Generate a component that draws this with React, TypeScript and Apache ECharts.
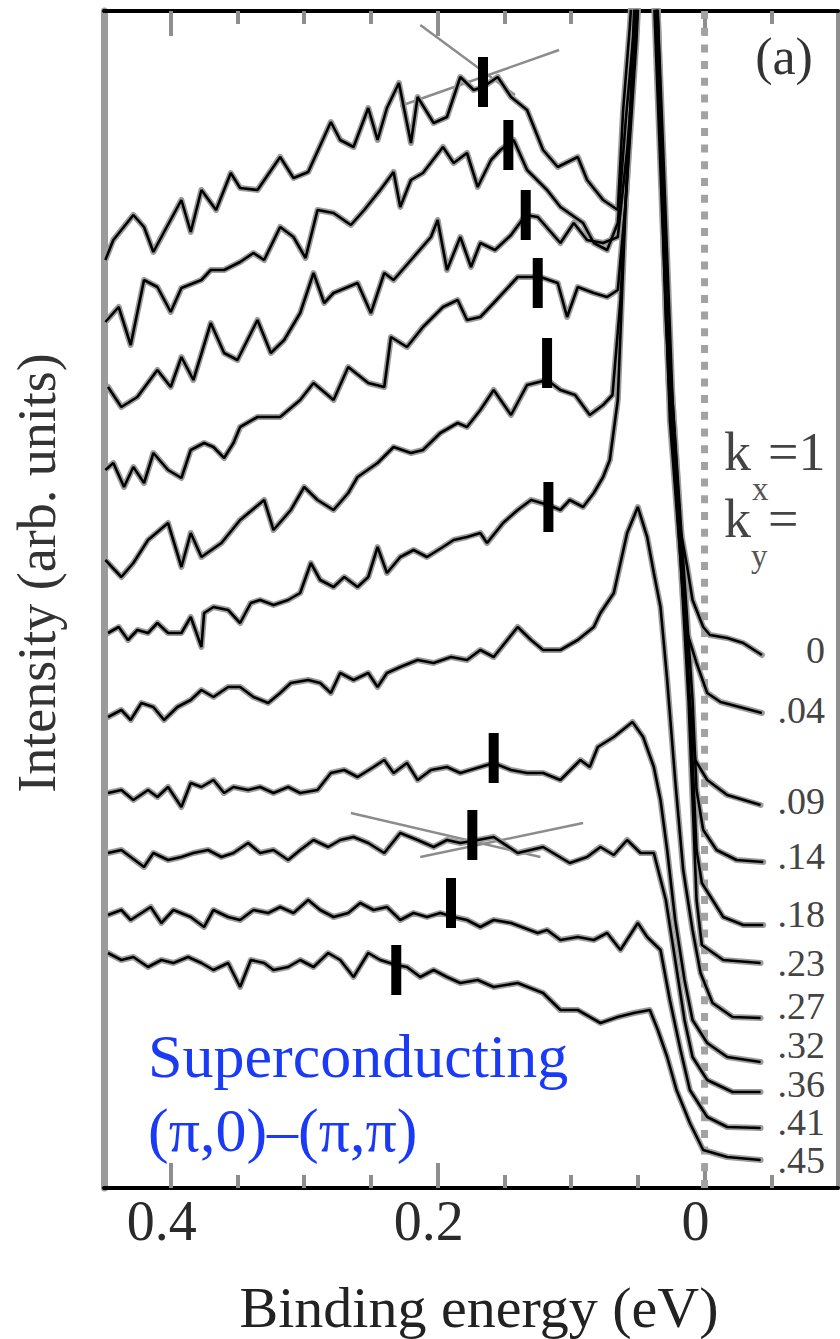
import React, { useEffect, useRef } from "react";
import * as echarts from "echarts";

// ---------------- data ----------------
const X_MIN = -0.1;
const X_MAX = 0.45;
const Y_MIN = 0;
const Y_MAX = 117.7;
const MAJOR_TICKS = [0, 0.2, 0.4];
const MINOR_TICKS = [-0.05, 0.05, 0.1, 0.15, 0.25, 0.3, 0.35];
const FERMI_ENERGY = 0;

const KY_LABELS = ["0", ".04", ".09", ".14", ".18", ".23", ".27", ".32", ".36", ".41", ".45"];

// EDCs: [binding energy (eV), intensity (arb. units, offset)]
const edc_ky000 = [[0.449,92.8],[0.443,94.8],[0.428,97.3],[0.420,96.1],[0.413,93.6],[0.405,95.6],[0.392,98.8],[0.385,95.6],[0.377,99.8],[0.366,97.8],[0.355,101.5],[0.348,100.0],[0.335,99.8],[0.318,103.1],[0.308,101.0],[0.297,101.6],[0.280,106.6],[0.273,104.8],[0.263,104.1],[0.252,108.0],[0.245,104.8],[0.238,108.0],[0.229,110.5],[0.220,104.5],[0.215,109.1],[0.203,106.5],[0.193,107.1],[0.183,111.1],[0.173,109.8],[0.166,110.1],[0.155,111.1],[0.145,109.1],[0.133,107.8],[0.121,103.8],[0.110,102.1],[0.095,103.1],[0.088,100.8],[0.076,98.8],[0.065,97.8],[0.061,107.8],[0.056,116.1],[0.043,143.8],[0.031,103.8],[0.024,78.8],[0.018,65.8],[0.013,62.1],[0.009,58.8],[0.001,56.1],[-0.004,55.3],[-0.017,55.0],[-0.029,54.5],[-0.043,53.3]];
const edc_ky004 = [[0.449,86.6],[0.439,88.1],[0.430,84.3],[0.420,90.8],[0.410,90.1],[0.400,87.6],[0.392,90.0],[0.377,90.8],[0.370,91.8],[0.360,91.8],[0.348,92.6],[0.338,93.5],[0.330,92.8],[0.318,96.1],[0.308,95.1],[0.299,93.0],[0.290,97.8],[0.278,97.5],[0.265,96.3],[0.255,97.8],[0.243,99.8],[0.233,101.6],[0.228,98.1],[0.220,100.8],[0.211,101.5],[0.196,104.1],[0.188,102.5],[0.178,103.5],[0.170,100.1],[0.160,102.8],[0.153,103.8],[0.143,104.8],[0.133,101.8],[0.118,99.8],[0.108,98.1],[0.091,96.5],[0.083,94.5],[0.073,93.8],[0.065,96.5],[0.059,106.8],[0.053,115.8],[0.042,143.8],[0.029,86.8],[0.022,70.8],[0.017,61.8],[0.013,55.5],[0.006,52.5],[-0.002,49.5],[-0.012,48.6],[-0.029,48.0],[-0.043,47.5]];
const edc_ky009 = [[0.447,80.1],[0.437,78.1],[0.425,79.1],[0.410,81.8],[0.400,80.1],[0.392,83.1],[0.383,80.8],[0.370,86.5],[0.360,83.5],[0.350,82.8],[0.335,86.8],[0.325,83.5],[0.315,84.8],[0.303,87.5],[0.293,91.5],[0.285,88.5],[0.278,89.5],[0.260,90.5],[0.250,87.5],[0.240,91.5],[0.233,90.8],[0.218,93.1],[0.205,95.1],[0.200,96.8],[0.193,91.8],[0.183,95.1],[0.175,92.1],[0.168,94.5],[0.157,93.8],[0.145,95.3],[0.134,97.3],[0.125,97.1],[0.108,94.5],[0.098,96.5],[0.088,94.8],[0.076,94.5],[0.065,95.1],[0.058,103.8],[0.051,115.8],[0.041,143.8],[0.029,88.8],[0.021,70.8],[0.015,58.8],[0.011,48.8],[0.007,42.8],[-0.002,40.8],[-0.017,39.3],[-0.042,38.3]];
const edc_ky014 = [[0.449,71.8],[0.443,72.5],[0.435,70.1],[0.428,72.1],[0.420,70.5],[0.413,73.5],[0.402,71.8],[0.392,71.0],[0.385,73.8],[0.375,74.5],[0.368,74.1],[0.360,73.0],[0.353,74.5],[0.348,76.1],[0.335,77.1],[0.318,77.1],[0.303,78.8],[0.293,80.5],[0.278,78.8],[0.267,82.1],[0.252,80.5],[0.240,80.1],[0.235,85.1],[0.223,84.1],[0.211,86.1],[0.196,88.1],[0.185,88.8],[0.178,86.8],[0.168,87.1],[0.158,88.5],[0.140,91.1],[0.123,91.1],[0.110,90.5],[0.103,87.1],[0.095,90.1],[0.083,89.5],[0.073,89.1],[0.065,89.8],[0.059,98.8],[0.051,114.8],[0.041,143.8],[0.028,86.8],[0.020,70.8],[0.014,58.8],[0.009,48.8],[0.006,39.8],[0.001,35.8],[-0.009,33.8],[-0.024,32.8],[-0.044,32.6]];
const edc_ky018 = [[0.449,62.8],[0.437,61.1],[0.428,62.5],[0.417,64.8],[0.402,66.5],[0.392,62.1],[0.385,65.5],[0.377,63.1],[0.362,64.5],[0.348,66.8],[0.330,68.8],[0.323,65.8],[0.310,67.8],[0.300,70.1],[0.290,68.8],[0.278,67.8],[0.267,69.5],[0.260,71.1],[0.245,72.5],[0.233,74.1],[0.220,73.5],[0.211,73.8],[0.198,75.5],[0.185,76.5],[0.178,76.1],[0.168,77.8],[0.158,79.8],[0.145,77.3],[0.133,80.3],[0.118,80.8],[0.108,79.8],[0.097,79.3],[0.086,77.3],[0.076,78.3],[0.069,79.3],[0.063,88.8],[0.056,106.8],[0.045,143.8],[0.027,80.8],[0.020,66.8],[0.014,54.8],[0.009,42.8],[0.006,33.8],[0.002,30.5],[-0.014,27.1],[-0.029,26.3],[-0.044,26.3]];
const edc_ky023 = [[0.447,55.5],[0.439,56.1],[0.432,54.8],[0.425,55.8],[0.417,55.5],[0.410,56.5],[0.402,55.5],[0.392,55.5],[0.385,57.1],[0.377,54.1],[0.375,57.5],[0.368,58.1],[0.357,57.8],[0.348,56.5],[0.340,58.5],[0.333,58.8],[0.323,58.3],[0.312,58.8],[0.303,59.5],[0.295,62.5],[0.288,60.8],[0.278,60.1],[0.270,61.1],[0.260,60.1],[0.252,61.1],[0.245,64.1],[0.238,61.5],[0.228,63.1],[0.218,63.8],[0.208,63.1],[0.196,64.1],[0.188,64.8],[0.178,65.1],[0.168,65.5],[0.163,64.5],[0.151,66.5],[0.140,67.8],[0.130,68.8],[0.117,68.3],[0.108,67.8],[0.101,68.8],[0.091,68.1],[0.083,69.5],[0.076,71.1],[0.071,72.8],[0.065,78.8],[0.059,98.8],[0.052,114.8],[0.043,143.8],[0.026,76.8],[0.018,62.8],[0.012,48.8],[0.009,38.8],[0.006,28.8],[0.002,24.3],[-0.014,22.8],[-0.042,22.5]];
const edc_ky027 = [[0.447,47.1],[0.437,47.8],[0.430,46.8],[0.422,48.5],[0.413,48.1],[0.405,46.8],[0.395,48.1],[0.385,48.8],[0.377,49.8],[0.368,49.1],[0.357,50.1],[0.348,50.1],[0.338,49.1],[0.327,48.5],[0.318,49.5],[0.310,50.5],[0.297,50.8],[0.288,50.5],[0.280,49.5],[0.273,51.5],[0.263,50.8],[0.252,51.5],[0.245,50.1],[0.238,51.5],[0.228,52.1],[0.215,52.8],[0.203,52.5],[0.190,53.1],[0.178,52.8],[0.168,53.8],[0.158,53.1],[0.140,56.1],[0.130,54.8],[0.121,53.8],[0.108,53.8],[0.095,54.8],[0.083,56.1],[0.078,57.5],[0.068,59.5],[0.058,65.5],[0.050,68.1],[0.043,65.1],[0.038,61.5],[0.033,58.1],[0.028,50.8],[0.022,40.8],[0.016,31.8],[0.009,25.8],[0.003,21.5],[-0.006,18.5],[-0.021,17.1],[-0.042,17.0]];
const edc_ky032 = [[0.447,39.5],[0.437,39.8],[0.428,38.8],[0.417,39.8],[0.410,39.1],[0.402,40.1],[0.392,38.1],[0.385,40.5],[0.377,40.1],[0.368,40.8],[0.360,39.5],[0.353,40.1],[0.342,39.8],[0.333,40.1],[0.323,39.5],[0.312,40.1],[0.303,39.5],[0.290,39.8],[0.280,41.5],[0.270,41.8],[0.260,41.1],[0.248,42.1],[0.240,42.8],[0.233,41.5],[0.223,42.5],[0.215,40.8],[0.205,41.8],[0.193,42.1],[0.183,41.5],[0.168,42.1],[0.158,42.5],[0.145,41.8],[0.133,41.5],[0.121,41.5],[0.108,40.8],[0.093,42.8],[0.086,42.1],[0.080,44.1],[0.068,45.1],[0.054,46.6],[0.046,45.1],[0.038,42.1],[0.033,38.8],[0.028,33.8],[0.022,26.8],[0.015,20.8],[0.009,16.8],[-0.002,14.5],[-0.017,13.1],[-0.042,12.6]];
const edc_ky036 = [[0.447,33.5],[0.437,33.8],[0.430,33.1],[0.420,32.1],[0.413,33.5],[0.402,32.8],[0.392,33.1],[0.383,33.5],[0.372,33.8],[0.362,33.1],[0.353,33.5],[0.342,34.5],[0.333,33.5],[0.323,33.8],[0.312,32.8],[0.303,33.8],[0.293,34.8],[0.282,34.1],[0.273,34.8],[0.263,35.1],[0.252,34.5],[0.240,33.5],[0.228,35.5],[0.215,34.8],[0.203,34.1],[0.193,34.8],[0.183,34.5],[0.170,34.8],[0.158,35.1],[0.140,33.5],[0.121,34.1],[0.101,32.5],[0.088,33.1],[0.078,34.1],[0.068,33.3],[0.058,34.8],[0.048,33.5],[0.038,33.5],[0.029,28.8],[0.022,22.8],[0.015,16.8],[0.009,13.1],[-0.002,10.8],[-0.021,9.6],[-0.042,9.6]];
const edc_ky041 = [[0.447,27.3],[0.437,27.8],[0.430,26.8],[0.415,28.1],[0.407,26.5],[0.398,27.8],[0.385,27.1],[0.375,26.1],[0.368,27.8],[0.357,27.1],[0.348,26.8],[0.338,27.8],[0.327,27.5],[0.318,28.1],[0.308,27.5],[0.297,28.8],[0.288,27.8],[0.278,27.1],[0.267,27.5],[0.258,28.5],[0.248,27.8],[0.238,28.1],[0.228,26.8],[0.218,27.5],[0.208,27.1],[0.198,27.5],[0.188,27.1],[0.178,26.8],[0.168,26.1],[0.158,26.8],[0.145,26.5],[0.125,25.5],[0.118,25.8],[0.108,24.8],[0.095,25.1],[0.083,24.8],[0.073,25.5],[0.063,23.8],[0.050,26.5],[0.043,25.1],[0.033,23.8],[0.026,18.8],[0.018,13.8],[0.011,9.8],[-0.002,7.1],[-0.017,6.1],[-0.042,6.0]];
const edc_ky045 = [[0.447,23.5],[0.437,22.8],[0.428,23.1],[0.417,22.1],[0.407,22.8],[0.398,22.5],[0.387,23.1],[0.377,22.5],[0.368,21.8],[0.357,22.5],[0.348,20.1],[0.340,22.8],[0.330,22.5],[0.323,21.8],[0.312,22.1],[0.303,22.8],[0.293,22.1],[0.282,23.5],[0.273,22.8],[0.263,21.1],[0.252,23.5],[0.243,22.8],[0.231,22.3],[0.223,22.1],[0.213,21.1],[0.203,21.8],[0.193,21.1],[0.183,20.5],[0.170,20.8],[0.158,20.1],[0.140,20.5],[0.121,19.5],[0.108,17.8],[0.095,17.8],[0.078,16.5],[0.065,17.1],[0.053,17.5],[0.041,17.8],[0.035,15.8],[0.028,13.1],[0.021,9.8],[0.011,6.5],[0.001,3.8],[-0.017,3.1],[-0.042,2.8]];

const EDCS = [edc_ky000, edc_ky004, edc_ky009, edc_ky014, edc_ky018, edc_ky023, edc_ky027, edc_ky032, edc_ky036, edc_ky041, edc_ky045];

// peak position markers [binding energy, intensity]
const PEAK_MARKS = [[0.166,110.6],[0.147,104.3],[0.134,97.3],[0.125,90.5],[0.118,82.5],[0.117,68.1],[0.158,43.0],[0.174,35.3],[0.190,28.5],[0.231,21.8]];

// grey dispersion guide lines
const GUIDE_TOP_A = [[0.213,116.3],[0.142,109.3]];
const GUIDE_TOP_B = [[0.109,113.8],[0.228,108.2]];
const GUIDE_BOT_A = [[0.265,37.5],[0.123,33.1]];
const GUIDE_BOT_B = [[0.213,33.1],[0.091,36.5]];

// ---------------- layout / style ----------------
const W = 840;
const H = 1339;
const SERIF = "'Liberation Serif', 'Times New Roman', Times, serif";
const GRID = { left: 104, right: 2, top: 11, bottom: 151 };
const KY_LABEL_Y = [650, 710, 801, 856, 914, 963, 1006, 1045, 1084, 1122, 1160];
const BLUE = "#1a3af5";
const TICK_GREY = "#8e8e8e";

function txt(text: string, x: number, y: number, size: number, fill: string, align = "left", rotation = 0) {
  return {
    type: "text",
    x,
    y,
    rotation,
    silent: true,
    z: 50,
    style: {
      text,
      fontSize: size,
      fontFamily: SERIF,
      fill,
      align,
      textAlign: align,
      verticalAlign: "middle",
      textVerticalAlign: "middle",
    },
  };
}

function buildOption() {
  const baseX = { type: "value", min: X_MIN, max: X_MAX, inverse: true, splitLine: { show: false } };
  const xAxis = [
    {
      ...baseX,
      position: "bottom",
      axisLine: { show: true, onZero: false, lineStyle: { color: "#000", width: 4 } },
      axisTick: { show: true, inside: true, length: 25, customValues: MAJOR_TICKS, lineStyle: { color: TICK_GREY, width: 4 } },
      axisLabel: {
        show: true,
        customValues: MAJOR_TICKS,
        formatter: (v: number) => (Math.abs(v) < 1e-9 ? "0" : v.toFixed(1)),
        fontSize: 56,
        fontFamily: SERIF,
        color: "#2a2a2a",
        margin: 5,
        padding: [0, 18, 0, 0],
      },
    },
    {
      ...baseX,
      position: "bottom",
      axisLine: { show: false, onZero: false },
      axisTick: { show: true, inside: true, length: 13, customValues: MINOR_TICKS, lineStyle: { color: TICK_GREY, width: 4 } },
      axisLabel: { show: false },
    },
    {
      ...baseX,
      position: "top",
      axisLine: { show: true, onZero: false, lineStyle: { color: "#000", width: 4 } },
      axisTick: { show: true, inside: true, length: 25, customValues: MAJOR_TICKS, lineStyle: { color: TICK_GREY, width: 4 } },
      axisLabel: { show: false },
    },
    {
      ...baseX,
      position: "top",
      axisLine: { show: false, onZero: false },
      axisTick: { show: true, inside: true, length: 13, customValues: MINOR_TICKS, lineStyle: { color: TICK_GREY, width: 4 } },
      axisLabel: { show: false },
    },
  ];
  const yAxis = [
    {
      type: "value",
      min: Y_MIN,
      max: Y_MAX,
      position: "left",
      axisLine: { show: true, onZero: false, lineStyle: { color: "#9b9b9b", width: 7 } },
      axisTick: { show: false },
      axisLabel: { show: false },
      splitLine: { show: false },
    },
    {
      type: "value",
      min: Y_MIN,
      max: Y_MAX,
      position: "right",
      axisLine: { show: true, onZero: false, lineStyle: { color: "#8f8f8f", width: 4 } },
      axisTick: { show: false },
      axisLabel: { show: false },
      splitLine: { show: false },
    },
  ];

  const series: any[] = [];
  series.push({
    type: "line",
    name: "E_F",
    data: [[FERMI_ENERGY, Y_MIN], [FERMI_ENERGY, Y_MAX]],
    symbol: "none",
    silent: true,
    z: 1,
    lineStyle: { color: "#a2a2a2", width: 7, type: [8, 8.7] },
  });
  [GUIDE_TOP_A, GUIDE_TOP_B, GUIDE_BOT_A, GUIDE_BOT_B].forEach((g, i) => {
    series.push({
      type: "line",
      name: "guide" + i,
      data: g,
      symbol: "none",
      silent: true,
      z: 2,
      lineStyle: { color: "#8c8c8c", width: 2.5 },
    });
  });
  EDCS.forEach((d, i) => {
    series.push({
      type: "line",
      name: "ky " + KY_LABELS[i] + " (shadow)",
      data: d,
      symbol: "none",
      silent: true,
      z: 3,
      lineStyle: { color: "#9c9c9c", width: 6, join: "round", cap: "round" },
    });
  });
  EDCS.forEach((d, i) => {
    series.push({
      type: "line",
      name: "ky " + KY_LABELS[i],
      data: d,
      symbol: "none",
      silent: true,
      z: 4,
      lineStyle: { color: "#000", width: 2.6 },
    });
  });
  series.push({
    type: "scatter",
    name: "peaks",
    data: PEAK_MARKS,
    symbol: "rect",
    symbolSize: [10, 50],
    silent: true,
    z: 5,
    itemStyle: { color: "#000", opacity: 1 },
  });

  const graphic: any[] = [
    txt("Intensity (arb. units)", 37, 573, 54, "#333", "center", Math.PI / 2),
    txt("Binding energy (eV)", 479, 1307, 58, "#222", "center"),
    txt("(a)", 784, 56, 52, "#333", "center"),
    txt("Superconducting", 148, 1056, 62, BLUE),
    txt("(\u03c0,0)\u2013(\u03c0,\u03c0)", 148, 1130, 62, BLUE),
    txt("k", 724, 452, 54, "#444"),
    txt("=1", 768, 452, 54, "#444"),
    txt("x", 752, 489, 33, "#555"),
    txt("k", 724, 519, 54, "#444"),
    txt("=", 768, 519, 54, "#444"),
    txt("y", 751, 556, 33, "#555"),
  ];
  KY_LABELS.forEach((l, i) => {
    graphic.push(txt(l, 825, KY_LABEL_Y[i], 38, "#444", "right"));
  });

  return {
    animation: false,
    backgroundColor: "#fff",
    grid: { ...GRID, containLabel: false },
    xAxis,
    yAxis,
    series,
    graphic,
  };
}

export default function App() {
  const ref = useRef<HTMLDivElement>(null);
  useEffect(() => {
    document.body.style.margin = "0";
    if (!ref.current) return;
    const chart = echarts.init(ref.current, null, { renderer: "svg" });
    chart.setOption(buildOption() as any);
    return () => chart.dispose();
  }, []);
  return <div ref={ref} style={{ width: W, height: H }} />;
}
